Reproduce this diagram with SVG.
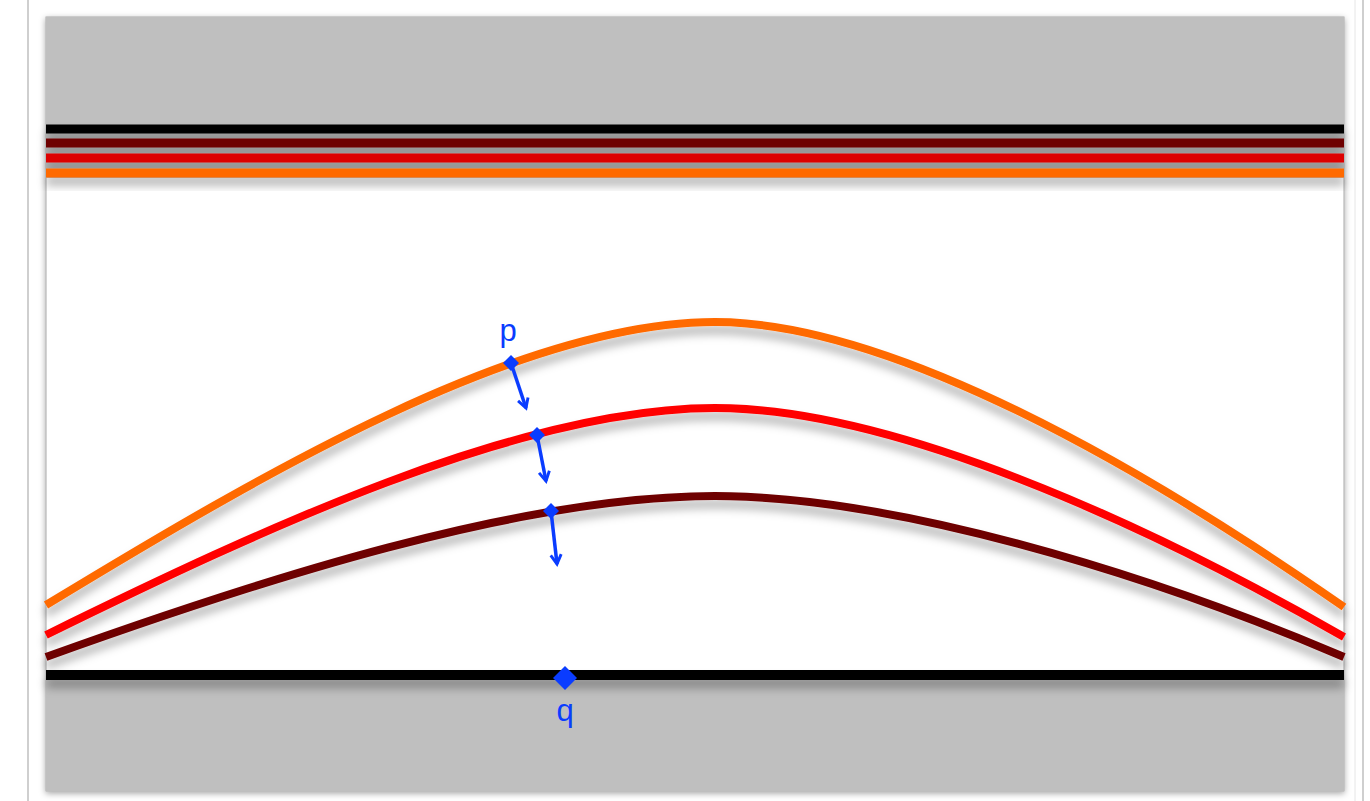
<svg xmlns="http://www.w3.org/2000/svg" width="1370" height="801" viewBox="0 0 1370 801">
<defs>
<style>
.curve{fill:none;stroke-width:8;stroke-linecap:butt;filter:url(#sh)}
.band{stroke-width:9}
.vec{stroke:#0a3cff;stroke-width:3.5;fill:none;marker-end:url(#ah)}
.pt{fill:#0a3cff}
.lbl{font-family:"Liberation Sans",Arial,sans-serif;font-size:31px;fill:#0a3cff;text-anchor:middle}
</style>
<filter id="sh" x="-5%" y="-20%" width="110%" height="160%">
<feDropShadow dx="0" dy="8" stdDeviation="5" flood-color="#000" flood-opacity="0.3"/>
</filter>
<filter id="shu" filterUnits="userSpaceOnUse" x="0" y="640" width="1370" height="80">
<feDropShadow dx="0" dy="8" stdDeviation="5" flood-color="#000" flood-opacity="0.3"/>
</filter>
<filter id="psh" x="-5%" y="-5%" width="110%" height="110%">
<feDropShadow dx="0" dy="2" stdDeviation="3" flood-color="#000" flood-opacity="0.35"/>
</filter>
<marker id="ah" markerWidth="14" markerHeight="14" refX="9" refY="5" orient="auto" markerUnits="userSpaceOnUse" viewBox="0 0 12 10">
<path d="M1,0.5 L9,5 L1,9.5" fill="none" stroke="#0a3cff" stroke-width="2.5" stroke-linejoin="miter"/>
</marker>
</defs>
<rect width="1370" height="801" fill="#ffffff"/>
<line x1="28" y1="0" x2="28" y2="801" stroke="#cfcfcf" stroke-width="2"/>
<line x1="1363" y1="0" x2="1363" y2="801" stroke="#cfcfcf" stroke-width="2"/>
<line x1="1355" y1="0" x2="1355" y2="801" stroke="#e6e6e6" stroke-width="1"/>
<g id="panel">
<rect x="46" y="17" width="1298" height="774" fill="#ffffff" stroke="#a8a8a8" stroke-width="1" filter="url(#psh)"/>
<rect x="46" y="17" width="1298" height="161" fill="#bfbfbf"/>
<rect x="46" y="676" width="1298" height="115" fill="#bfbfbf"/>
</g>
<g id="top-bands" filter="url(#sh)">
<line class="band" x1="46" y1="129" x2="1344" y2="129" stroke="#000000"/>
<line class="band" x1="46" y1="143" x2="1344" y2="143" stroke="#6e0000"/>
<line class="band" x1="46" y1="158" x2="1344" y2="158" stroke="#dd0000"/>
<line class="band" x1="46" y1="173" x2="1344" y2="173" stroke="#ff6a00"/>
</g>
<g id="bottom-line">
<rect x="46" y="670" width="1298" height="10" fill="#000000" filter="url(#shu)"/>
</g>
<g id="curves">
<path id="c-orange" class="curve" stroke="#ff6a00" d="M46,605 C260,475 520,322 715,322 C890,322 1140,465 1344,607"/>
<path id="c-red" class="curve" stroke="#ff0000" d="M46,635 C260,530 520,408 715,408 C890,408 1140,520 1344,637"/>
<path id="c-darkred" class="curve" stroke="#6e0000" d="M46,657 C260,580 520,496 715,496 C890,496 1140,570 1344,657"/>
</g>
<g id="connectors">
<line class="vec" x1="511" y1="363" x2="526" y2="408"/>
<line class="vec" x1="537" y1="435" x2="546" y2="481"/>
<line class="vec" x1="551" y1="511" x2="557" y2="564"/>
</g>
<g id="node-p">
<polygon class="pt" points="511,355 519,363 511,371 503,363"/>
<text class="lbl" x="508" y="341">p</text>
</g>
<g id="node-p2">
<polygon class="pt" points="537,427 545,435 537,443 529,435"/>
</g>
<g id="node-p3">
<polygon class="pt" points="551,503 559,511 551,519 543,511"/>
</g>
<g id="node-q">
<polygon class="pt" points="565,666 577,678 565,690 553,678"/>
<text class="lbl" x="565" y="721">q</text>
</g>
</svg>
